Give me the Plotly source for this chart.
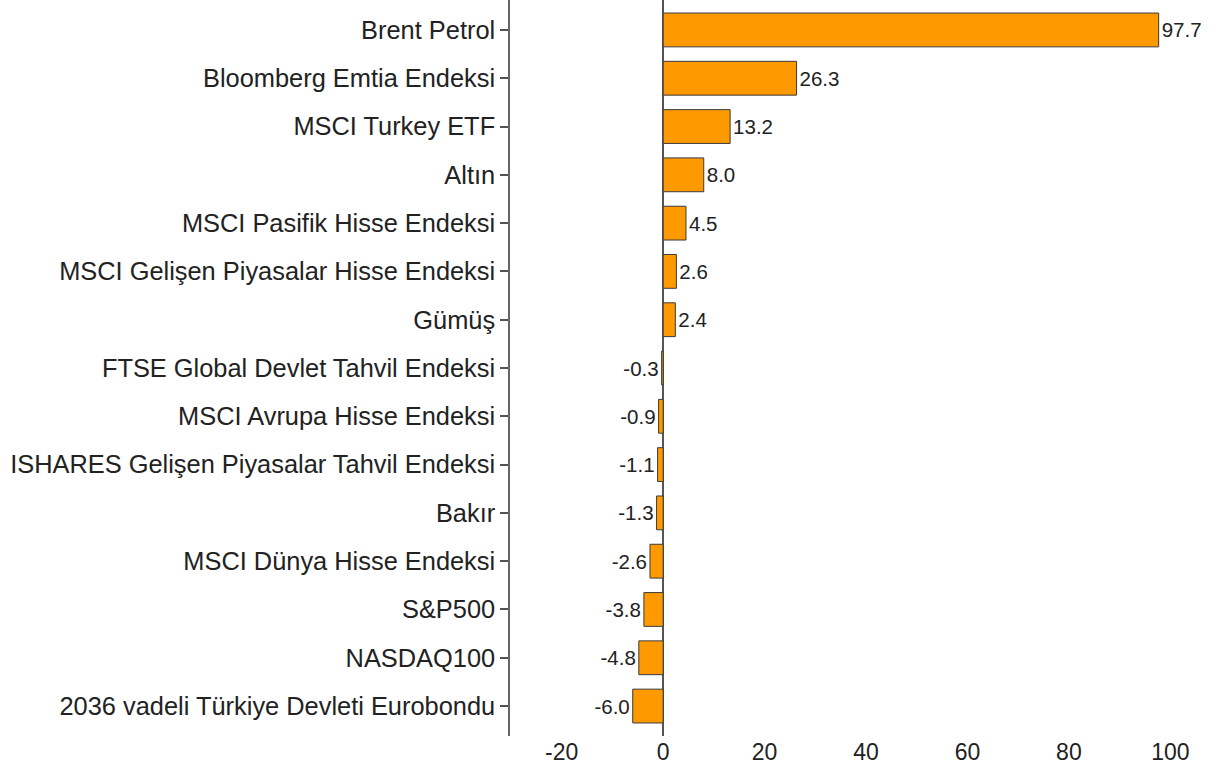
import plotly.graph_objects as go

categories = [
    "Brent Petrol",
    "Bloomberg Emtia Endeksi",
    "MSCI Turkey ETF",
    "Altın",
    "MSCI Pasifik Hisse Endeksi",
    "MSCI Gelişen Piyasalar Hisse Endeksi",
    "Gümüş",
    "FTSE Global Devlet Tahvil Endeksi",
    "MSCI Avrupa Hisse Endeksi",
    "ISHARES Gelişen Piyasalar Tahvil Endeksi",
    "Bakır",
    "MSCI Dünya Hisse Endeksi",
    "S&P500",
    "NASDAQ100",
    "2036 vadeli Türkiye Devleti Eurobondu",
]
values = [97.7, 26.3, 13.2, 8.0, 4.5, 2.6, 2.4, -0.3, -0.9, -1.1, -1.3, -2.6, -3.8, -4.8, -6.0]
x_ticks = [-20, 0, 20, 40, 60, 80, 100]

fig = go.Figure(
    go.Bar(
        x=values,
        y=categories,
        orientation="h",
        width=0.7,
        marker=dict(color="#FF9900", line=dict(color="#3a3a3a", width=1)),
        text=[f"{v:.1f}" for v in values],
        textposition="outside",
        textfont=dict(size=20.5, color="#222222", family="Liberation Sans, Arial"),
        cliponaxis=False,
        constraintext="none",
        hoverinfo="skip",
    )
)

fig.update_layout(
    width=1218,
    height=778,
    margin=dict(l=510, r=0, t=0, b=42, autoexpand=False),
    plot_bgcolor="white",
    paper_bgcolor="white",
    showlegend=False,
    font=dict(family="Liberation Sans, Arial", color="#222222"),
)
fig.update_xaxes(
    range=[-30.2, 109.4],
    tickvals=x_ticks,
    ticktext=[str(t) for t in x_ticks],
    showgrid=False,
    showline=False,
    ticks="",
    zeroline=True,
    zerolinecolor="#555555",
    zerolinewidth=1.5,
    tickfont=dict(size=23, color="#222222"),
    automargin=False,
)
fig.update_yaxes(
    categoryorder="array",
    categoryarray=categories,
    range=[14.62, -0.62],
    showgrid=False,
    showline=True,
    linecolor="#666666",
    linewidth=1.5,
    ticks="outside",
    ticklen=8,
    tickwidth=1.5,
    tickcolor="#555555",
    tickfont=dict(size=25.4, color="#222222"),
    automargin=False,
)

fig.write_html(
    "out.html",
    config={"displayModeBar": False},
    post_script="document.body.style.margin='0px'; document.body.style.overflow='hidden';",
)
